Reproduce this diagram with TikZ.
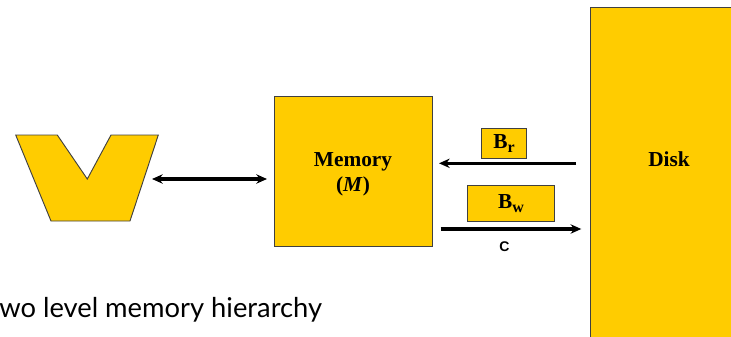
\documentclass[tikz,border=0pt]{standalone}
\usepackage{fontspec}
\setmainfont{Liberation Serif}
\newfontfamily\capfont{Lato}
\newfontfamily\arialfont{Liberation Sans}
\usetikzlibrary{arrows.meta}
\definecolor{gold}{HTML}{FFCC00}
\definecolor{edge}{HTML}{404040}
\tikzset{
  box/.style={draw=edge, line width=0.7pt, fill=gold},
  lbl/.style={font=\fontsize{16}{19}\selectfont\bfseries, align=center},
  conn/.style={line width=2.4pt, -{Stealth[length=8pt,width=7pt]}},
  biconn/.style={line width=2.4pt, {Stealth[length=8pt,width=7pt]}-{Stealth[length=8pt,width=7pt]}}
}
\newcommand{\blocksub}[1]{\raisebox{-0.4ex}{\fontsize{12}{14}\selectfont #1}}
\begin{document}
\begin{tikzpicture}[x=0.75pt,y=-0.75pt]
\useasboundingbox (0,0) rectangle (731,336);
\begin{scope}
\clip (0,0) rectangle (731,336);
% processor shape
\draw[box] (15.7,135) -- (57.3,135) -- (87.3,179) -- (111,135) -- (158.3,135) -- (130,221) -- (51,221) -- cycle;
\coordinate (cpu) at (152,179);
% memory
\node[box, minimum width=118.5pt, minimum height=112.5pt, anchor=north west] (mem) at (274,96) {};
\node[lbl] (memlbl) at (353,174) {Memory\\(\textit{M})};
% disk
\node[box, minimum width=120pt, minimum height=260pt, anchor=north west] (disk) at (590,7) {};
\node[lbl] (disklbl) at (669,159) {Disk};
% blocks
\node[box, minimum width=33.3pt, minimum height=22.3pt, anchor=north west, inner sep=0pt] (br) at (481.3,128.3) {};
\node[lbl] at (br.center) {B\blocksub{r}};
\node[box, minimum width=65.5pt, minimum height=27pt, anchor=north west, inner sep=0pt] (bw) at (467,185) {};
\node[lbl] at (bw.center) {B\blocksub{w}};
% arrows
\coordinate (a1) at (576,163.3);
\coordinate (a2) at (439,163.3);
\draw[conn] (a1) -- (a2);
\coordinate (b1) at (440.7,229);
\coordinate (b2) at (581.3,229);
\draw[conn] (b1) -- (b2);
\node[font=\arialfont\bfseries\fontsize{10.5}{12}\selectfont] (c) at (504.3,247) {C};
\coordinate (m1) at (267,179);
\draw[biconn] (cpu) -- (m1);
% caption
\node[font=\capfont\fontsize{20.5}{24}\selectfont, anchor=base west, inner sep=0pt] (cap) at (-1,317) {wo level memory hierarchy};
\end{scope}
\end{tikzpicture}
\end{document}
